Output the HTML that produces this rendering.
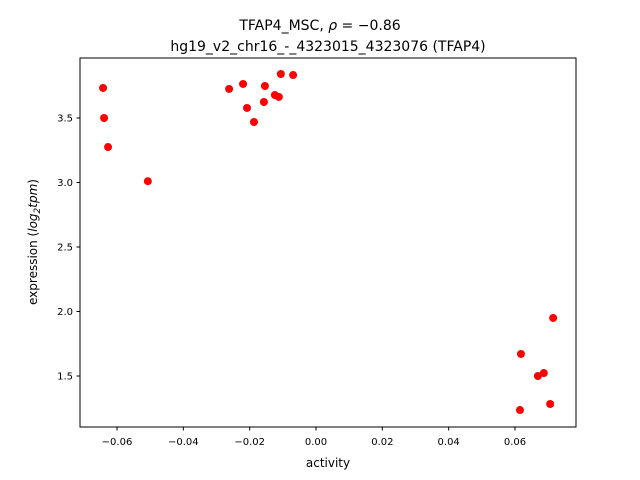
<!DOCTYPE html>
<html><head><meta charset="utf-8"><style>body{margin:0;background:#fff}svg{display:block;font-family:"DejaVu Sans","Liberation Sans",sans-serif}</style></head>
<body>
<svg id="chart" width="640" height="480">
<rect x="0" y="0" width="640" height="480" fill="#fff"/>
<g id="ticks"></g>
<g id="pts"></g>
<rect x="80" y="58" width="496" height="369" fill="none" stroke="#000" stroke-width="1"/>
<text x="320" y="30" text-anchor="middle" font-size="14">TFAP4_MSC, <tspan font-style="italic">ρ</tspan> = −0.86</text>
<text x="328" y="51" text-anchor="middle" font-size="14">hg19_v2_chr16_-_4323015_4323076 (TFAP4)</text>
<text x="328" y="467" text-anchor="middle" font-size="12">activity</text>
<text transform="translate(37,242) rotate(-90)" text-anchor="middle" font-size="12">expression (<tspan font-style="italic">log</tspan><tspan font-size="9" dy="3" font-style="italic">2</tspan><tspan dy="-3" font-style="italic">tpm</tspan>)</text>
</svg>
<script>
const activity=[-0.0642,-0.0639,-0.0627,-0.0507,-0.0262,-0.0220,-0.0208,-0.0187,-0.0154,-0.0157,-0.0124,-0.0112,-0.0106,-0.0069,0.0618,0.0615,0.0669,0.0687,0.0706,0.0715];
const expression=[3.733,3.5,3.275,3.01,3.725,3.764,3.578,3.469,3.748,3.624,3.678,3.663,3.841,3.833,1.671,1.236,1.500,1.523,1.283,1.950];
const xTicks=[-0.06,-0.04,-0.02,0.00,0.02,0.04,0.06];
const xTickLabels=["−0.06","−0.04","−0.02","0.00","0.02","0.04","0.06"];
const yTicks=[1.5,2.0,2.5,3.0,3.5];
const yTickLabels=["1.5","2.0","2.5","3.0","3.5"];
const NS="http://www.w3.org/2000/svg";
function sx(v){return 316+v*3316.7;}
function sy(v){return 118+(3.5-v)*129;}
const tg=document.getElementById('ticks');
function mk(tag,attrs,parent){const e=document.createElementNS(NS,tag);for(const k in attrs)e.setAttribute(k,attrs[k]);parent.appendChild(e);return e;}
xTicks.forEach((t,i)=>{const x=sx(t);
 const l=mk('line',{x1:x,x2:x,y1:427,y2:430.5,stroke:'#000'},tg);
 
 
 const tx=mk('text',{x:x,y:445,'text-anchor':'middle','font-size':10},tg);tx.textContent=xTickLabels[i];
 
 });
yTicks.forEach((t,i)=>{const y=sy(t);
 const l=mk('line',{x1:76.5,x2:80,y1:y,y2:y,stroke:'#000'},tg);
 
 
 const tx=mk('text',{x:73,y:y+3.5,'text-anchor':'end','font-size':10},tg);tx.textContent=yTickLabels[i];
 
 });
const pg=document.getElementById('pts');
activity.forEach((a,i)=>{const c=mk('circle',{cx:sx(a),cy:sy(expression[i]),r:4,fill:'#ff0000'},pg);
 
 });
</script>
</body></html>
